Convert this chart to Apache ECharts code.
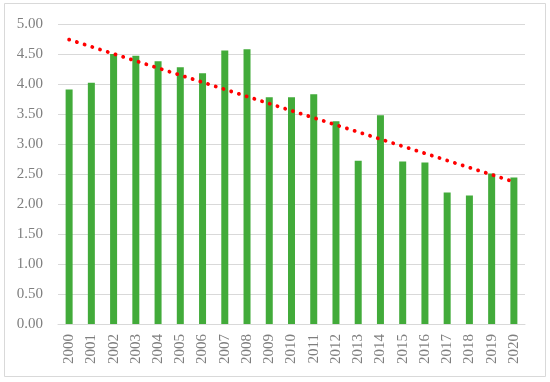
<!DOCTYPE html>
<html>
<head>
<meta charset="utf-8">
<style>
html,body{margin:0;padding:0;background:#fff;}
#chart{width:550px;height:382px;}
</style>
<script src="https://cdn.jsdelivr.net/npm/echarts@6/dist/echarts.min.js"></script>
</head>
<body>
<div id="chart"></div>
<script>
const years = ['2000','2001','2002','2003','2004','2005','2006','2007','2008','2009','2010',
               '2011','2012','2013','2014','2015','2016','2017','2018','2019','2020'];
const values = [3.91,4.02,4.50,4.47,4.38,4.28,4.18,4.56,4.58,3.78,3.78,
                3.83,3.38,2.72,3.48,2.71,2.69,2.19,2.14,2.51,2.44];
const trendYears = ['2000','2020'];
const trendValues = [4.74,2.37];
const yTicks = [0,0.5,1,1.5,2,2.5,3,3.5,4,4.5,5];

const chart = echarts.init(document.getElementById('chart'));
chart.setOption({
  animation:false,
  backgroundColor:'#fff',
  graphic:[{type:'rect',shape:{x:4.5,y:3.5,width:541,height:373},style:{fill:'none',stroke:'#d9d9d9',lineWidth:1}}],
  grid:{left:58,right:25,top:24,bottom:58,containLabel:false},
  xAxis:{
    type:'category',data:years,
    axisLine:{lineStyle:{color:'#d9d9d9'}},
    axisTick:{show:false},
    axisLabel:{rotate:90,color:'#7f7f7f',fontFamily:'Liberation Serif',fontSize:15,margin:10}
  },
  yAxis:{
    type:'value',min:yTicks[0],max:yTicks[yTicks.length-1],interval:0.5,
    axisLine:{show:false},axisTick:{show:false},
    splitLine:{lineStyle:{color:'#d9d9d9',width:1}},
    axisLabel:{color:'#7f7f7f',fontFamily:'Liberation Serif',fontSize:15,margin:15,
      formatter:v=>v.toFixed(2)}
  },
  series:[
    {type:'bar',data:values,barWidth:7,itemStyle:{color:'#42ab3a'}},
    {type:'line',data:trendYears.map((y,i)=>[y,trendValues[i]]),symbol:'none',z:5,
     lineStyle:{color:'#ff0000',width:3.8,type:[0.1,8],cap:'round'}}
  ]
});
</script>
</body>
</html>
